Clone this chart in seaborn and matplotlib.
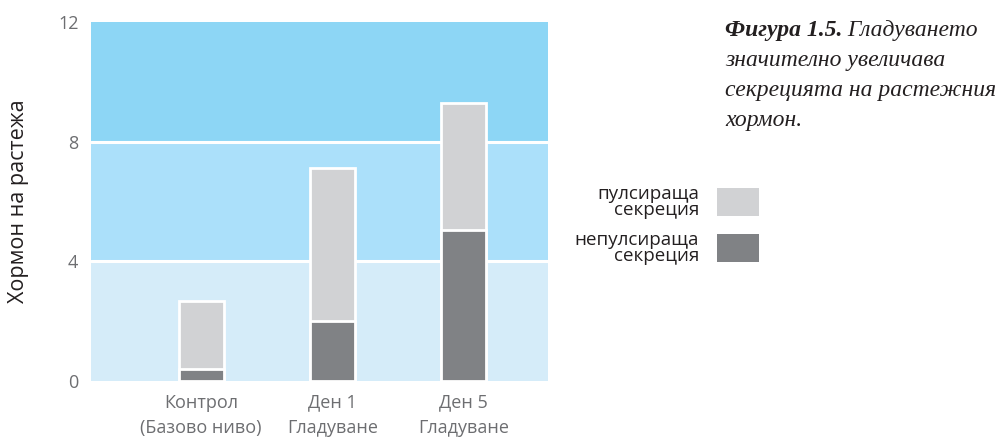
import matplotlib
matplotlib.use("Agg")
import matplotlib.pyplot as plt
from matplotlib.patches import Rectangle
import seaborn as sns
import pandas as pd

# Growth hormone secretion, control vs. fasting days
categories = ["Контрол\n(Базово ниво)", "Ден 1\nГладуване", "Ден 5\nГладуване"]
pulsatile = [2.28, 5.12, 4.25]      # pulsatile secretion (upper segment)
nonpulsatile = [0.40, 2.00, 5.05]   # non-pulsatile secretion (lower segment)
y_ticks = [0, 4, 8, 12]
legend_labels = ["пулсираща\nсекреция", "непулсираща\nсекреция"]
y_label = "Хормон на растежа"
caption_bold = "Фигура 1.5."
caption_rest = [" Гладуването", "значително увеличава", "секрецията на растежния", "хормон."]

totals = [p + n for p, n in zip(pulsatile, nonpulsatile)]
df = pd.DataFrame({"cat": categories, "total": totals, "base": nonpulsatile})

light_gray = "#d1d2d4"
dark_gray = "#808285"
band_colors = ["#d5ecf9", "#abe0fa", "#8dd6f5"]
tick_color = "#6d6e71"
text_color = "#231f20"

sns.set_theme(style="white")
plt.rcParams["font.family"] = ["Open Sans", "DejaVu Sans"]

fig = plt.figure(figsize=(10.04, 4.37), dpi=100)
ax = fig.add_axes([0.0906, 0.128, 0.455, 0.822])

# background bands separated by white rules
for i in range(3):
    ax.axhspan(y_ticks[i], y_ticks[i + 1], color=band_colors[i], lw=0, zorder=0)
for y in y_ticks[1:3]:
    ax.axhline(y, color="white", lw=2.2, zorder=0.5)

sns.barplot(data=df, x="cat", y="total", color=light_gray, width=0.34,
            edgecolor="white", linewidth=2, saturation=1, ax=ax, zorder=2)
sns.barplot(data=df, x="cat", y="base", color=dark_gray, width=0.34,
            edgecolor="white", linewidth=2, saturation=1, ax=ax, zorder=3)

ax.set_xlim(-0.84, 2.64)
ax.set_ylim(0, 12)
ax.set_yticks(y_ticks)
ax.set_yticklabels([str(t) for t in y_ticks])
ax.set_xticks(range(len(categories)))
ax.set_xticklabels(categories, linespacing=1.5)
ax.set_xlabel("")
ax.set_ylabel(y_label, fontsize=15.5, color=text_color, labelpad=21)
ax.tick_params(axis="y", length=0, pad=9, labelsize=13, labelcolor=tick_color)
ax.tick_params(axis="x", length=0, pad=9, labelsize=13, labelcolor=tick_color)
for s in ax.spines.values():
    s.set_visible(False)

# legend: right-aligned labels with swatches to their right
W, H = fig.get_size_inches() * fig.dpi
swatch_x, swatch_w, swatch_h = 717, 42, 28
for label, color, top in zip(legend_labels, [light_gray, dark_gray], [188, 234]):
    fig.add_artist(Rectangle((swatch_x / W, 1 - (top + swatch_h) / H),
                             swatch_w / W, swatch_h / H,
                             transform=fig.transFigure, facecolor=color,
                             edgecolor="none"))
    fig.text(699 / W, 1 - (top + swatch_h / 2) / H, label, ha="right",
             va="center", multialignment="right", fontsize=13.5,
             linespacing=0.88, color=text_color)

# caption
serif = ["Liberation Serif", "DejaVu Serif"]
x0, y0, dy = 0.722, 1 - 36 / H, 30 / H
fs = 17
t0 = fig.text(x0, y0, caption_bold, fontsize=fs, family=serif,
              style="italic", weight="bold", color=text_color, va="baseline")
fig.canvas.draw()
bb = t0.get_window_extent().transformed(fig.transFigure.inverted())
fig.text(bb.x1, y0, caption_rest[0], fontsize=fs, family=serif,
         style="italic", color=text_color, va="baseline")
for i, line in enumerate(caption_rest[1:], start=1):
    fig.text(x0, y0 - i * dy, line, fontsize=fs, family=serif,
             style="italic", color=text_color, va="baseline")

fig.savefig("out.png", dpi=100)
